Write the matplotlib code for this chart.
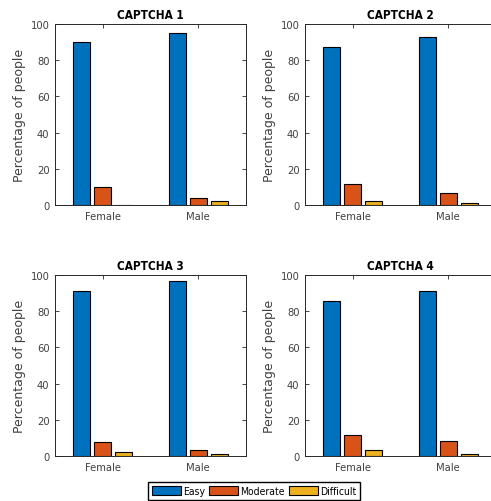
import numpy as np
import matplotlib
matplotlib.use("Agg")
import matplotlib.pyplot as plt

# Survey results: share of people rating each CAPTCHA by difficulty
groups = ["Female", "Male"]
levels = ["Easy", "Moderate", "Difficult"]
titles = ["CAPTCHA 1", "CAPTCHA 2", "CAPTCHA 3", "CAPTCHA 4"]

captcha1_easy = [90.0, 95.0]
captcha1_moderate = [10.0, 3.7]
captcha1_difficult = [0.0, 2.0]

captcha2_easy = [87.1, 92.6]
captcha2_moderate = [11.6, 6.8]
captcha2_difficult = [2.0, 0.9]

captcha3_easy = [91.3, 96.7]
captcha3_moderate = [7.7, 3.3]
captcha3_difficult = [2.0, 1.1]

captcha4_easy = [85.7, 91.0]
captcha4_moderate = [11.8, 8.3]
captcha4_difficult = [3.5, 1.1]

yticks = [0, 20, 40, 60, 80, 100]

series = [
    (captcha1_easy, captcha1_moderate, captcha1_difficult),
    (captcha2_easy, captcha2_moderate, captcha2_difficult),
    (captcha3_easy, captcha3_moderate, captcha3_difficult),
    (captcha4_easy, captcha4_moderate, captcha4_difficult),
]

colors = ["#0072BD", "#D95319", "#EDB120"]
axis_color = "#262626"
plt.rcParams["font.family"] = ["DejaVu Sans"]
plt.rcParams["font.stretch"] = "condensed"

W, H = 491, 502
fig = plt.figure(figsize=(W / 100, H / 100), dpi=100)

# axes boxes in pixels: (left, top)
boxes = [(55, 25), (305, 25), (55, 276), (305, 276)]
aw, ah = 191, 181

x = np.arange(1, len(groups) + 1)
offsets = [-0.22, 0.0, 0.22]
bar_w = 0.18

handles = []
for i, (vals, title) in enumerate(zip(series, titles)):
    left, top = boxes[i]
    ax = fig.add_axes([left / W, (H - top - ah) / H, aw / W, ah / H])
    for j, v in enumerate(vals):
        b = ax.bar(x + offsets[j], v, width=bar_w, color=colors[j],
                   edgecolor="black", linewidth=0.8, label=levels[j], zorder=2)
        if i == 0:
            handles.append(b)
    ax.set_xlim(0.5, 2.5)
    ax.set_ylim(0, 100)
    ax.set_xticks(x)
    ax.set_xticklabels(groups)
    ax.set_yticks(yticks)
    ax.tick_params(direction="in", length=3, width=0.6, top=True, right=True,
                   labelsize=8, colors=axis_color, labelcolor="#404040", pad=4)
    for s in ax.spines.values():
        s.set_color(axis_color)
        s.set_linewidth(0.7)
    ax.set_ylabel("Percentage of people", fontsize=9, fontstretch="normal",
                  color="#404040", labelpad=3)
    ax.set_title(title, fontsize=8.5, fontweight="bold", color="black", pad=4)

fig.legend(handles, levels, loc="center", bbox_to_anchor=(254 / W, 1 - 492 / H),
           ncol=3, fontsize=7.5, frameon=True, fancybox=False, edgecolor="black",
           framealpha=1, handlelength=2.8, handleheight=1.0, handletextpad=0.2,
           columnspacing=0.4, borderpad=0.35, borderaxespad=0)

fig.savefig("out.png", dpi=100)
